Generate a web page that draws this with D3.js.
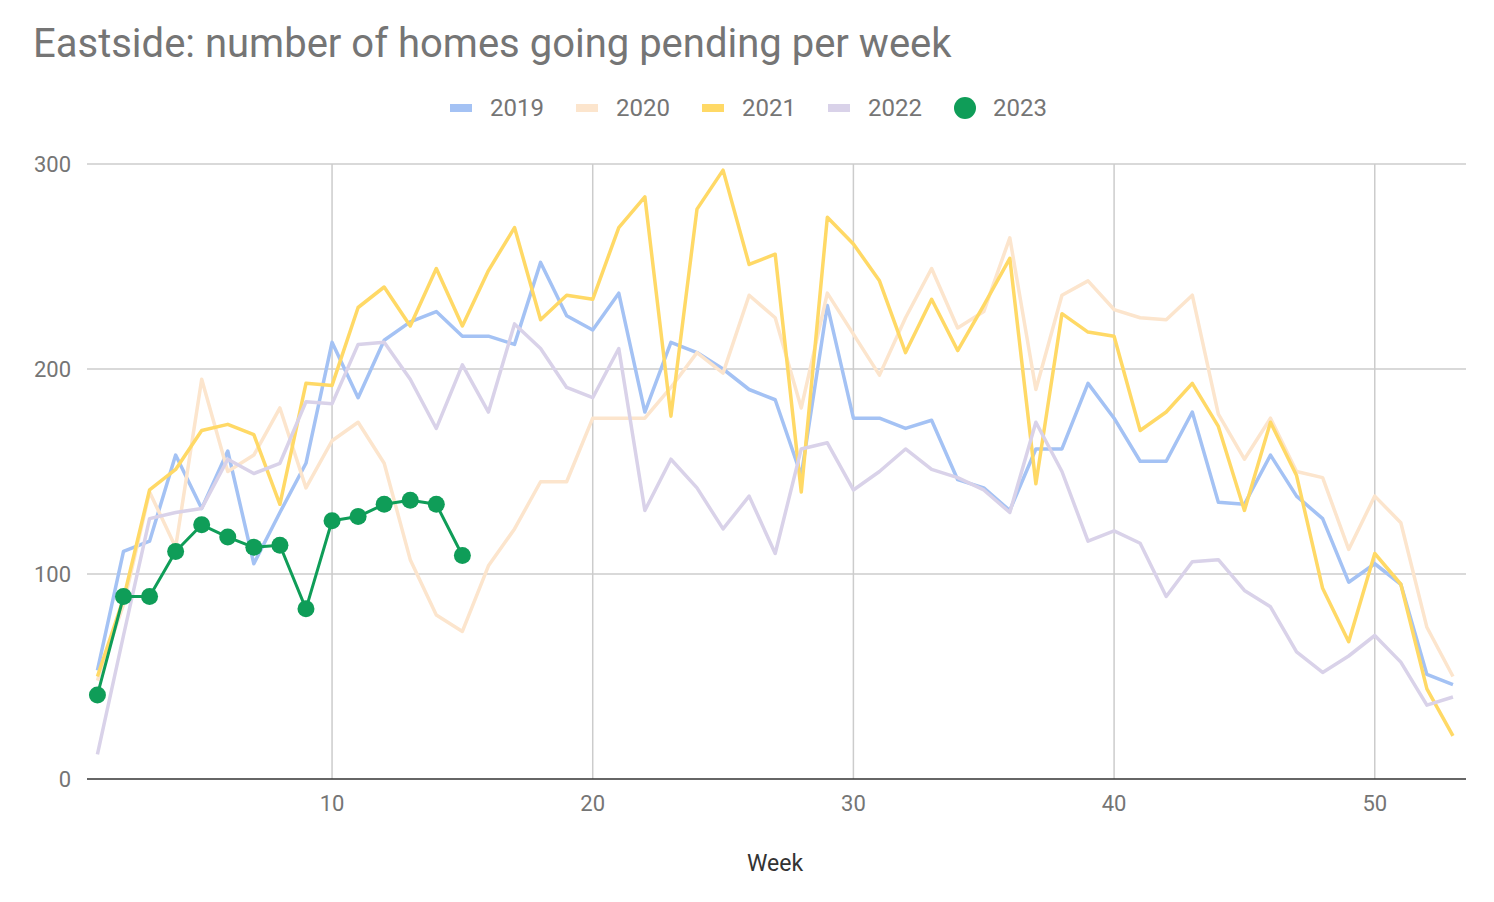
<!DOCTYPE html>
<html>
<head>
<meta charset="utf-8">
<script src="https://cdn.jsdelivr.net/npm/d3@7"></script>
<style>
  html, body { margin: 0; padding: 0; background: #fff; }
  svg { display: block; font-family: Roboto, "Noto Sans", sans-serif; }
</style>
</head>
<body>
<svg id="chart" width="1494" height="902"></svg>
<script>
const weeks = d3.range(1, 54);
const seriesNames = ["2019", "2020", "2021", "2022", "2023"];
const v2019 = [53,111,116,158,132,160,105,130,154,213,186,214,223,228,216,216,212,252,226,219,237,179,213,208,200,190,185,148,231,176,176,171,175,146,142,131,161,161,193,176,155,155,179,135,134,158,138,127,96,105,95,51,46];
const v2020 = [48,85,140,113,195,150,158,181,142,165,174,154,107,80,72,104,122,145,145,176,176,176,191,208,198,236,225,181,237,217,197,225,249,220,228,264,190,236,243,229,225,224,236,178,156,176,150,147,112,138,125,74,50];
const v2021 = [50,88,141,151,170,173,168,134,193,192,230,240,221,249,221,248,269,224,236,234,269,284,177,278,297,251,256,140,274,261,243,208,234,209,231,254,144,227,218,216,170,179,193,172,131,174,148,93,67,110,95,44,21];
const v2022 = [12,70,127,130,132,156,149,154,184,183,212,213,195,171,202,179,222,210,191,186,210,131,156,142,122,138,110,161,164,141,150,161,151,147,141,130,174,150,116,121,115,89,106,107,92,84,62,52,60,70,57,36,40];
const v2023 = [41,89,89,111,124,118,113,114,83,126,128,134,136,134,109];
const yTicks = [0, 100, 200, 300];
const xTicks = [10, 20, 30, 40, 50];
const colors = ["#a4c2f4", "#fce5cd", "#ffd966", "#d9d2e9", "#0f9d58"];

const values = [v2019, v2020, v2021, v2022, v2023];
const svg = d3.select("#chart");
const x = d3.scaleLinear().domain([0.6, 53.5]).range([87, 1466]);
const y = d3.scaleLinear().domain([0, 300]).range([779, 164]);

// title
svg.append("text").attr("x", 33).attr("y", 57)
  .attr("font-size", 40).attr("fill", "#757575")
  .text("Eastside: number of homes going pending per week");

// gridlines
svg.append("g").selectAll("line").data(yTicks.filter(d => d > 0)).join("line")
  .attr("x1", 87).attr("x2", 1466)
  .attr("y1", d => y(d)).attr("y2", d => y(d))
  .attr("stroke", "#cccccc").attr("stroke-width", 1.5);
svg.append("g").selectAll("line").data(xTicks).join("line")
  .attr("x1", d => x(d)).attr("x2", d => x(d))
  .attr("y1", 164).attr("y2", 779)
  .attr("stroke", "#cccccc").attr("stroke-width", 1.5);

// y labels
svg.append("g").selectAll("text").data(yTicks).join("text")
  .attr("x", 71).attr("y", d => y(d) + 8)
  .attr("text-anchor", "end").attr("font-size", 22).attr("fill", "#757575")
  .text(d => d);
// x labels
svg.append("g").selectAll("text").data(xTicks).join("text")
  .attr("x", d => x(d)).attr("y", 811)
  .attr("text-anchor", "middle").attr("font-size", 22).attr("fill", "#757575")
  .text(d => d);

// axis title
svg.append("text").attr("x", 775).attr("y", 871)
  .attr("text-anchor", "middle").attr("font-size", 23).attr("fill", "#333333")
  .text("Week");

// lines
const line = d3.line().x((d, i) => x(weeks[i])).y(d => y(d));
values.forEach((vals, k) => {
  svg.append("path").datum(vals)
    .attr("d", line)
    .attr("fill", "none")
    .attr("stroke", colors[k])
    .attr("stroke-width", k === 4 ? 3 : 3.5)
    .attr("stroke-linejoin", "round");
});

// baseline
svg.append("line").attr("x1", 87).attr("x2", 1466)
  .attr("y1", y(0)).attr("y2", y(0))
  .attr("stroke", "#333333").attr("stroke-width", 1.5);

// 2023 points
svg.append("g").selectAll("circle").data(v2023).join("circle")
  .attr("cx", (d, i) => x(weeks[i])).attr("cy", d => y(d))
  .attr("r", 8.5).attr("fill", colors[4]);

// legend
const legendX = [450, 576, 702, 828, 954];
const lg = svg.append("g");
seriesNames.forEach((name, k) => {
  if (k < 4) {
    lg.append("rect").attr("x", legendX[k]).attr("y", 104)
      .attr("width", 22).attr("height", 8).attr("fill", colors[k]);
  } else {
    lg.append("circle").attr("cx", legendX[k] + 11).attr("cy", 108)
      .attr("r", 11).attr("fill", colors[k]);
  }
  lg.append("text").attr("x", legendX[k] + (k < 4 ? 40 : 39)).attr("y", 116)
    .attr("font-size", 24).attr("fill", "#757575").text(name);
});
</script>
</body>
</html>
